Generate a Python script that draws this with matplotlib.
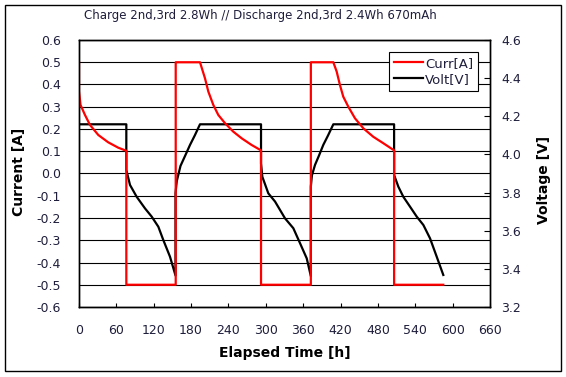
import matplotlib
matplotlib.use("Agg")
import matplotlib.pyplot as plt
from matplotlib.patches import Rectangle

# ---- data ----
t_curr = [0, 0, 2.5, 9.6, 17.7, 31, 47, 63, 76, 76, 155.3, 155.3, 194.3,
          202.3, 207.7, 215.7, 223.7, 234.5, 247.8, 261.3, 277.3, 292.3, 292.3,
          372.3, 372.3, 408.4, 413.8, 419, 424.4, 432.5, 443.2, 456.6, 472.6,
          488.7, 506, 506, 585]
curr = [0.50, 0.37, 0.308, 0.263, 0.218, 0.173, 0.140, 0.116, 0.102, -0.50,
        -0.50, 0.50, 0.50, 0.428, 0.368, 0.308, 0.263, 0.226, 0.188, 0.158,
        0.128, 0.104, -0.50, -0.50, 0.50, 0.50, 0.458, 0.398, 0.345, 0.30,
        0.248, 0.203, 0.165, 0.136, 0.104, -0.50, -0.50]

t_volt = [0, 76, 76, 81.9, 92.6, 106, 116.7, 127.4, 135.4, 146.1, 155, 155,
          157, 163, 170, 178.3, 186, 194.3, 292.3, 292.3, 294.4, 304, 314.8,
          330.8, 344.2, 355, 365.7, 372.3, 372.3, 374, 379, 385.5, 392.3, 400,
          408.4, 506, 506, 512.8, 520.8, 531.6, 542.3, 553, 563.7, 574.4, 585]
volt = [4.158, 4.158, 3.918, 3.84, 3.778, 3.717, 3.674, 3.621, 3.551, 3.464,
        3.365, 3.797, 3.86, 3.94, 3.99, 4.05, 4.10, 4.158, 4.158, 3.953, 3.883,
        3.796, 3.753, 3.665, 3.613, 3.534, 3.455, 3.362, 3.831, 3.89, 3.945,
        3.995, 4.05, 4.10, 4.158, 4.158, 3.892, 3.831, 3.778, 3.726, 3.674,
        3.63, 3.56, 3.464, 3.368]

x_ticks = list(range(0, 661, 60))
i_ticks = [-0.6, -0.5, -0.4, -0.3, -0.2, -0.1, 0.0, 0.1, 0.2, 0.3, 0.4, 0.5, 0.6]
v_ticks = [3.2, 3.4, 3.6, 3.8, 4.0, 4.2, 4.4, 4.6]

title = "Charge 2nd,3rd 2.8Wh // Discharge 2nd,3rd 2.4Wh 670mAh"

# ---- figure ----
W, H = 566, 377
fig = plt.figure(figsize=(W / 100, H / 100), dpi=100)
fig.patch.set_facecolor("white")
fig.patches.append(Rectangle((5 / W, 1 - 371 / H), 556 / W, 366 / H,
                             transform=fig.transFigure, fill=False,
                             edgecolor="black", linewidth=1.0))

L, R, T, B = 79, 490, 40, 307
ax = fig.add_axes([L / W, 1 - B / H, (R - L) / W, (B - T) / H])
ax2 = ax.twinx()
ax.set_zorder(ax2.get_zorder() + 1)
ax.patch.set_visible(False)

tick_col = "#1e1e3c"
fs = 9

ln_v, = ax2.plot(t_volt, volt, color="black", linewidth=1.6, label="Volt[V]")
ln_c, = ax.plot(t_curr, curr, color="#ff0000", linewidth=1.6, label="Curr[A]")

ax.set_xlim(0, 660)
ax.set_ylim(-0.6, 0.6)
ax2.set_ylim(3.2, 4.6)
ax.set_xticks(x_ticks)
ax.set_yticks(i_ticks)
ax.set_yticklabels([f"{v:.1f}" for v in i_ticks])
ax2.set_yticks(v_ticks)
ax2.set_yticklabels([f"{v:.1f}" for v in v_ticks])

ax.yaxis.grid(True, color="black", linewidth=0.8)
ax.set_axisbelow(True)

ax.tick_params(axis="x", direction="in", length=3, width=0.8, pad=12,
               labelsize=fs, labelcolor=tick_col)
ax.tick_params(axis="y", direction="in", length=0, pad=13,
               labelsize=fs, labelcolor=tick_col)
ax2.tick_params(axis="y", direction="in", length=4, width=0.8, pad=8,
                labelsize=fs, labelcolor=tick_col)
for a in (ax, ax2):
    for s in a.spines.values():
        s.set_color("black")
        s.set_linewidth(1.0)

leg = ax.legend(handles=[ln_c, ln_v], loc="upper right",
                bbox_to_anchor=(0.971, 0.955), borderaxespad=0,
                fancybox=False, framealpha=1, edgecolor="black",
                fontsize=9.5, handlelength=2.2, handletextpad=0.2,
                borderpad=0.35, labelspacing=0.25)
leg.get_frame().set_linewidth(0.8)
for txt in leg.get_texts():
    txt.set_color(tick_col)

fig.text(260 / W, 1 - 16 / H, title, ha="center", va="center",
         fontsize=8.5, color=tick_col)
fig.text(19 / W, 1 - 172 / H, "Current [A]", rotation=90, ha="center",
         va="center", fontsize=10, fontweight="bold", color="black")
fig.text(544 / W, 1 - 180 / H, "Voltage [V]", rotation=90, ha="center",
         va="center", fontsize=10, fontweight="bold", color="black")
fig.text(284.5 / W, 1 - 352.5 / H, "Elapsed Time [h]", ha="center",
         va="center", fontsize=10, fontweight="bold", color="black")

fig.savefig("out.png", dpi=100)
